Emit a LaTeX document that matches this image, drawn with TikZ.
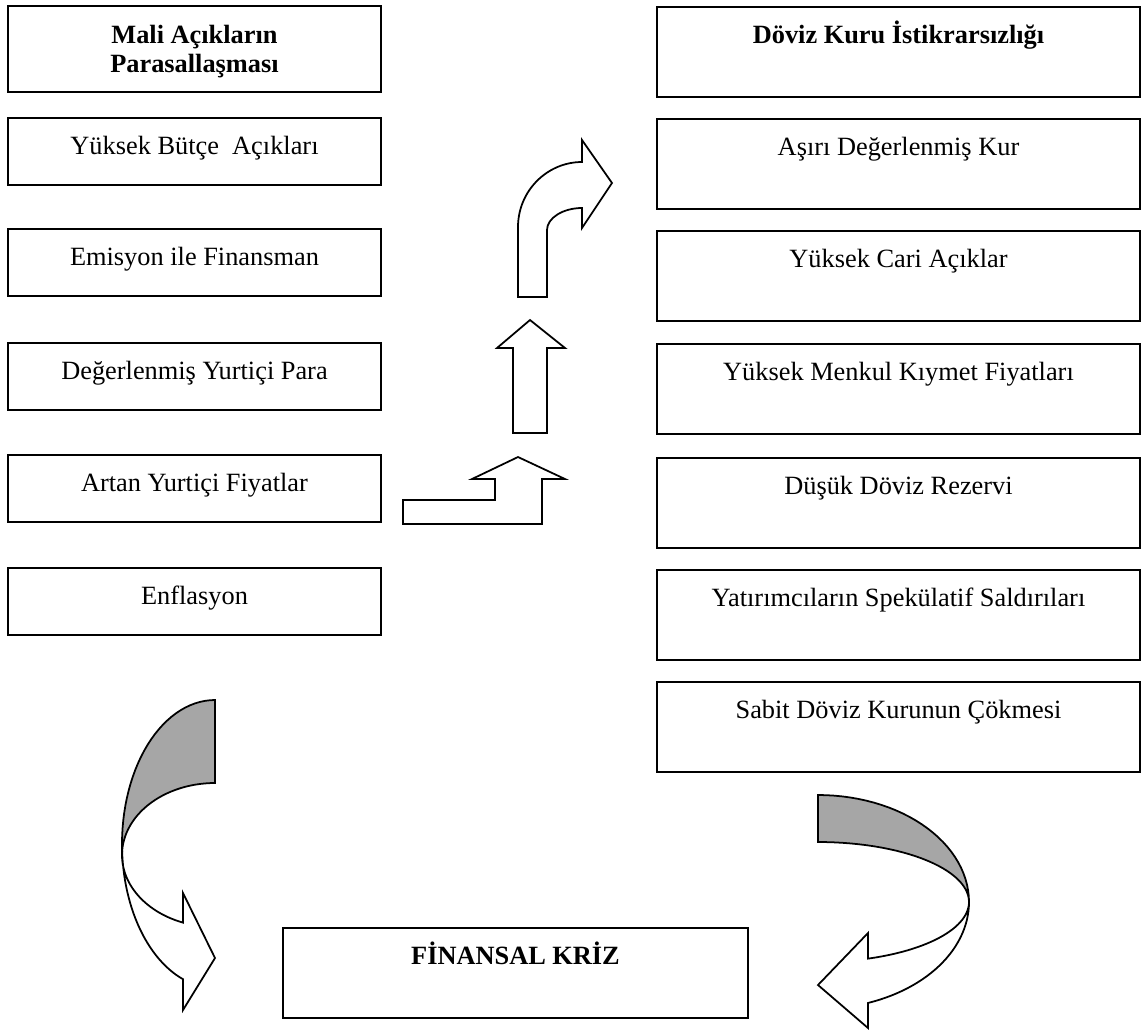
\documentclass[tikz,border=0pt]{standalone}
\usepackage{fontspec}
\setmainfont{Liberation Serif}

\begin{document}
\begin{tikzpicture}[x=0.02cm,y=-0.02cm,
	box/.style={draw, line width=1.1pt, anchor=north, inner ysep=0pt, text height=0.74cm, font=\fontsize{15}{17}\selectfont},
	lbox/.style={box, minimum width=7.46cm, text depth=0.6cm},
	rbox/.style={box, minimum width=9.66cm, text depth=1.06cm},
	blockarrow/.style={draw, line width=1pt, fill=white, line join=miter},
	backside/.style={blockarrow, fill=black!35}]
	\useasboundingbox (0,0) rectangle (1142,1029);
	
	% left column
	\node[lbox, align=center, text height=1.34cm, text depth=0.38cm, font=\fontsize{15}{17}\selectfont\bfseries] (mali) at (194.5,5) {Mali Açıkların\\Parasallaşması};
	\node[lbox] (butce) at (194.5,117) {Yüksek Bütçe~ Açıkları};
	\node[lbox] (emisyon) at (194.5,228) {Emisyon ile Finansman};
	\node[lbox] (para) at (194.5,342) {Değerlenmiş Yurtiçi Para};
	\node[lbox] (fiyat) at (194.5,454) {Artan Yurtiçi Fiyatlar};
	\node[lbox] (enflasyon) at (194.5,567) {Enflasyon};
	
	% right column
	\node[rbox, font=\fontsize{15}{17}\selectfont\bfseries] (doviz) at (898.5,6) {Döviz Kuru İstikrarsızlığı};
	\node[rbox] (kur) at (898.5,118) {Aşırı Değerlenmiş Kur};
	\node[rbox] (cari) at (898.5,230) {Yüksek Cari Açıklar};
	\node[rbox] (menkul) at (898.5,343) {Yüksek Menkul Kıymet Fiyatları};
	\node[rbox] (rezerv) at (898.5,457) {Düşük Döviz Rezervi};
	\node[rbox] (saldiri) at (898.5,569) {Yatırımcıların Spekülatif Saldırıları};
	\node[rbox] (cokme) at (898.5,681) {Sabit Döviz Kurunun Çökmesi};
	
	% bottom
	\node[box, minimum width=9.3cm, text depth=1.06cm, font=\fontsize{15}{17}\selectfont\bfseries] (kriz) at (515.5,927) {FİNANSAL KRİZ};
	
	% block arrows in the middle
	\draw[blockarrow] (403,500) -- (495,500) -- (495,479) -- (472,479) -- (518,457) -- (565,479) -- (542,479) -- (542,524) -- (403,524) -- cycle;
	\draw[blockarrow] (513,433) -- (513,348) -- (497,348) -- (530,320) -- (565,348) -- (547,348) -- (547,433) -- cycle;
	\draw[blockarrow] (518,297) -- (518,227) .. controls (518,191) and (547,162) .. (582,162) -- (582,140) -- (612,183) -- (582,228) -- (582,208) .. controls (563,208) and (547,218) .. (547,230) -- (547,297) -- cycle;
	
	% curved arrows to the crisis
	\draw[blockarrow] plot[domain=180:110.1, samples=30, variable=\t] ({215+93*cos(\t)},{844+144*sin(\t)}) -- (183,1010) -- (215,958) -- (183,893) -- plot[domain=110.1:180, samples=30, variable=\t] ({215+93*cos(\t)},{855+72*sin(\t)}) -- cycle;
	\draw[backside] plot[domain=-90:-180, samples=30, variable=\t] ({215+93*cos(\t)},{844+144*sin(\t)}) -- plot[domain=180:270, samples=30, variable=\t] ({215+93*cos(\t)},{855+72*sin(\t)}) -- cycle;
	\draw[blockarrow] plot[domain=0:70.7, samples=30, variable=\t] ({818+151*cos(\t)},{902+107*sin(\t)}) -- (868,1028) -- (818,985) -- (868,933) -- plot[domain=70.7:0, samples=30, variable=\t] ({818+151*cos(\t)},{902+60*sin(\t)}) -- cycle;
	\draw[backside] plot[domain=-90:0, samples=30, variable=\t] ({818+151*cos(\t)},{902+107*sin(\t)}) -- plot[domain=0:-90, samples=30, variable=\t] ({818+151*cos(\t)},{902+60*sin(\t)}) -- cycle;
\end{tikzpicture}
\end{document}
